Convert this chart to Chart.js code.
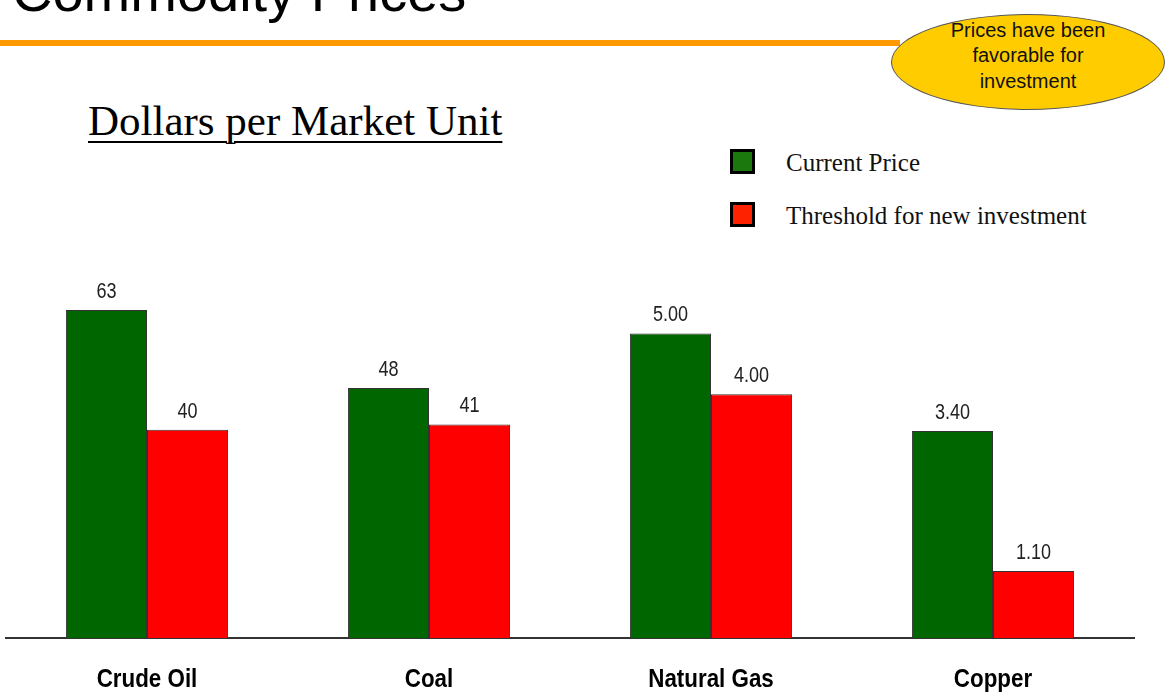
<!DOCTYPE html>
<html>
<head>
<meta charset="utf-8">
<script src="https://cdn.jsdelivr.net/npm/chart.js@4.4.1/dist/chart.umd.min.js"></script>
<style>
  html, body { margin: 0; padding: 0; background: #fff; overflow: hidden; }
  body { width: 1167px; height: 694px; position: relative; }
  .title { position: absolute; left: 12px; top: -36px; font: 56px/56px "Liberation Sans", Arial, sans-serif; color: #000; white-space: nowrap; }
  .rule { position: absolute; left: 0; top: 40px; width: 900px; height: 6px; background: #ff9900; }
  .bubble { position: absolute; left: 891px; top: 14px; width: 274px; height: 96px; box-sizing: border-box;
            border-radius: 50%; background: #ffcc00; border: 1px solid #555;
            display: flex; align-items: center; justify-content: center; text-align: center;
            font: 20px/25.5px "Liberation Sans", Arial, sans-serif; color: #111; padding-bottom: 12px; }
  .subtitle { position: absolute; left: 88px; top: 100px; font: 43px/42px "Liberation Serif", "Times New Roman", serif;
              color: #000; text-decoration: underline; text-decoration-thickness: 2px; text-underline-offset: 6px; white-space: nowrap; }
  .legend { position: absolute; left: 730px; top: 149px; font: 25px "Liberation Serif", "Times New Roman", serif; color: #111; }
  .legend .item { position: relative; height: 53px; }
  .legend .box { position: absolute; left: 0; top: 0; width: 25px; height: 25px; box-sizing: border-box; border: 3px solid #000; }
  .legend .txt { position: absolute; left: 56px; top: 13px; transform: translateY(-50%); white-space: nowrap; line-height: 1; }
  .wrap { position: absolute; left: 0; top: 0; width: 1167px; height: 694px; }
</style>
</head>
<body>
<div class="title">Commodity Prices</div>
<div class="rule"></div>
<div class="bubble">Prices have been<br>favorable for<br>investment</div>
<div class="subtitle">Dollars per Market Unit</div>
<div class="legend" id="legend"></div>
<div class="wrap"><canvas id="chart"></canvas></div>

<script>
/* values */
const categories = ['Crude Oil', 'Coal', 'Natural Gas', 'Copper'];
const seriesNames = ['Current Price', 'Threshold for new investment'];
const currentPrice = [63, 48, 5.00, 3.40];
const threshold = [40, 41, 4.00, 1.10];
const valueDecimals = [0, 0, 2, 2];
// oil/coal and gas/copper are drawn on two separate (hidden) scales
const scaleGroup = ['yA', 'yA', 'yB', 'yB'];

const GREEN = '#006600';
const RED = '#ff0000';

function pick(values, group) {
    return values.map((v, i) => scaleGroup[i] === group ? v : null);
}

/* ── legend ───────────────────────────────────────────── */
const legendColors = ['#1a780c', '#ff2200'];
document.getElementById('legend').innerHTML = seriesNames.map((name, i) =>
    '<div class="item"><div class="box" style="background:' + legendColors[i] + '"></div>' +
    '<div class="txt">' + name + '</div></div>').join('');

/* narrow-looking text: squeeze Arial horizontally */
function squeezedText(ctx, text, x, y, sx) {
    ctx.save();
    ctx.translate(x, y);
    ctx.scale(sx, 1);
    ctx.fillText(text, 0, 0);
    ctx.restore();
}

/* ── value labels above the bars + category labels ───── */
const barLabels = {
    id: 'barLabels',
    afterDatasetsDraw(chart) {
        const ctx = chart.ctx;
        ctx.save();
        ctx.font = '22px "Liberation Sans", Arial, sans-serif';
        ctx.fillStyle = '#222';
        ctx.textAlign = 'center';
        ctx.textBaseline = 'alphabetic';
        chart.data.datasets.forEach((ds, di) => {
            chart.getDatasetMeta(di).data.forEach((bar, i) => {
                const v = ds.data[i];
                if (v === null) return;
                squeezedText(ctx, v.toFixed(valueDecimals[i]), bar.x, bar.y - 12, 0.82);
            });
        });

        const xs = chart.scales.x;
        ctx.font = 'bold 26px "Liberation Sans", Arial, sans-serif';
        ctx.fillStyle = '#000';
        categories.forEach((c, i) => {
            squeezedText(ctx, c, xs.getPixelForValue(i), chart.chartArea.bottom + 49, 0.86);
        });
        ctx.restore();
    }
};

const common = { borderWidth: 1, borderColor: '#333' };

new Chart(document.getElementById('chart').getContext('2d'), {
    type: 'bar',
    data: {
        labels: categories,
        datasets: [
            { label: seriesNames[0], data: pick(currentPrice, 'yA'), yAxisID: 'yA', backgroundColor: GREEN, ...common },
            { label: seriesNames[1], data: pick(threshold, 'yA'), yAxisID: 'yA', backgroundColor: RED, ...common },
            { label: seriesNames[0], data: pick(currentPrice, 'yB'), yAxisID: 'yB', backgroundColor: GREEN, ...common },
            { label: seriesNames[1], data: pick(threshold, 'yB'), yAxisID: 'yB', backgroundColor: RED, ...common }
        ]
    },
    options: {
        responsive: true,
        maintainAspectRatio: false,
        animation: false,
        skipNull: true,
        categoryPercentage: 0.575,
        barPercentage: 1,
        layout: { padding: { top: 250, left: 6, right: 33, bottom: 0 } },
        plugins: {
            legend: { display: false },
            tooltip: { enabled: false }
        },
        scales: {
            x: {
                grid: { display: false, drawTicks: false },
                border: { display: true, color: '#333', width: 2 },
                ticks: { display: false },
                afterFit(scale) { scale.height = 56; }
            },
            yA: { display: false, min: 0, max: 74.5 },
            yB: { display: false, min: 0, max: 6.37 }
        }
    },
    plugins: [barLabels]
});
</script>
</body>
</html>
